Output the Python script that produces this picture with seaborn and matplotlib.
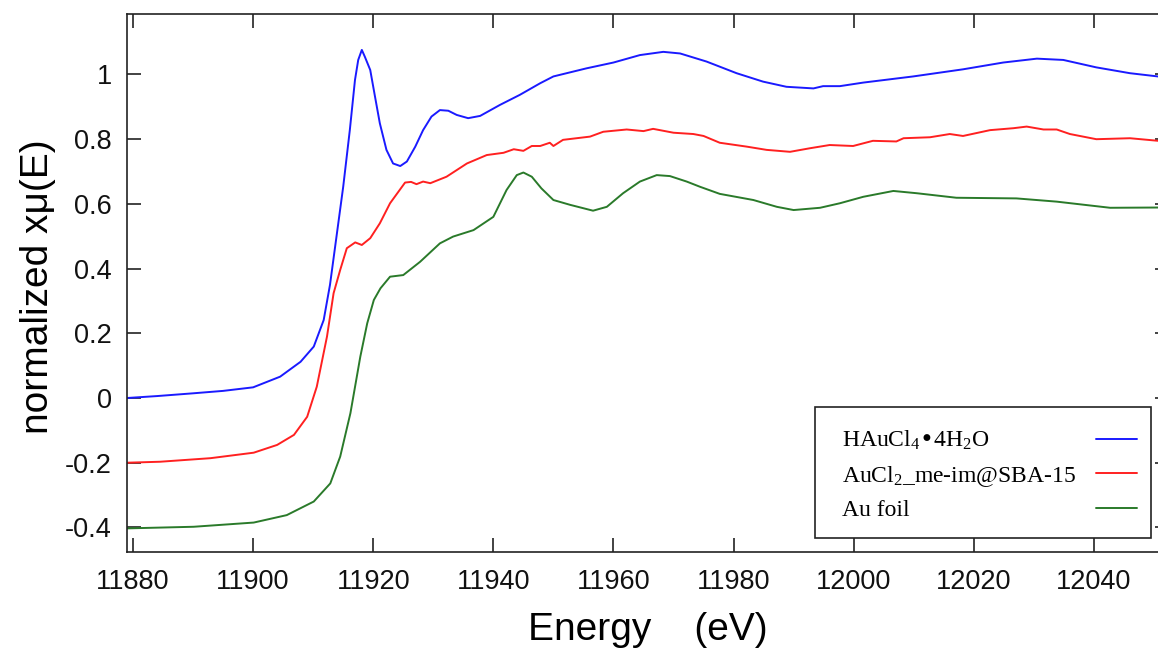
import matplotlib
matplotlib.use("Agg")
import matplotlib.pyplot as plt
from matplotlib.patches import Rectangle
import seaborn as sns
import pandas as pd

# ---------------- data ----------------
series_names = ["HAuCl$_\\mathregular{4}$\u20224H$_\\mathregular{2}$O",
                "AuCl$_\\mathregular{2}$_me-im@SBA-15",
                "Au foil"]

haucl4_E = [11879, 11884, 11890, 11895, 11900, 11904.5, 11907.9, 11910.1, 11911.75, 11912.8,
            11915.0, 11916.1, 11916.96, 11917.5, 11918.1, 11918.6, 11919.5, 11920.3, 11921.1,
            11922.2, 11923.3, 11924.5, 11925.6, 11927.0, 11928.3, 11929.7, 11931.1, 11932.5,
            11933.9, 11935.8, 11937.8, 11941.1, 11944.4,
            11947.8, 11950.0, 11955.5, 11960.0, 11964.4, 11968.3, 11971.1, 11975.5, 11980.5,
            11984.9, 11988.8, 11993.3, 11994.9, 11997.7, 12001.6, 12009.9, 12018.2, 12024.9,
            12030.5, 12034.9, 12040.4, 12046.0, 12052.5]
haucl4_mu = [0.0, 0.006, 0.0145, 0.022, 0.033, 0.066, 0.112, 0.159, 0.241, 0.35,
             0.653, 0.828, 0.983, 1.045, 1.076, 1.055, 1.014, 0.931, 0.849,
             0.767, 0.725, 0.717, 0.731, 0.777, 0.828, 0.87, 0.89, 0.888,
             0.875, 0.865, 0.872, 0.906, 0.937,
             0.973, 0.994, 1.019, 1.037, 1.06, 1.07, 1.065, 1.04, 1.004,
             0.978, 0.962, 0.957, 0.964, 0.964, 0.975, 0.994, 1.016, 1.037,
             1.049, 1.045, 1.022, 1.004, 0.99]

aucl2_E = [11879, 11884.5, 11892.9, 11900.1, 11904.0, 11906.8, 11909.0, 11910.6, 11912.3, 11913.4,
           11914.5, 11915.6, 11917.0, 11918.1, 11919.5, 11921.1, 11922.8, 11925.3, 11926.3,
           11927.2, 11928.3, 11929.5, 11932.2, 11935.6, 11938.9, 11941.7, 11943.4, 11945.0,
           11946.4, 11947.8, 11949.4, 11950.0, 11951.6, 11956.1, 11958.3, 11962.2, 11965.0,
           11966.6, 11970.0, 11973.3, 11975.0, 11977.7, 11982.2, 11985.5, 11989.4, 11992.7,
           11996.0, 11999.9, 12003.2, 12007.1, 12008.3, 12012.7, 12016.0, 12018.2, 12022.7,
           12026.6, 12028.8, 12031.6, 12033.8, 12036.0, 12040.4, 12046.0, 12052.5]
aucl2_mu = [-0.2, -0.197, -0.186, -0.169, -0.145, -0.114, -0.058, 0.035, 0.19, 0.324,
            0.396, 0.463, 0.481, 0.473, 0.494, 0.54, 0.602, 0.666, 0.668,
            0.661, 0.669, 0.664, 0.684, 0.725, 0.751, 0.758, 0.769, 0.764,
            0.779, 0.779, 0.789, 0.779, 0.798, 0.808, 0.823, 0.83, 0.825,
            0.832, 0.82, 0.816, 0.81, 0.789, 0.777, 0.767, 0.761, 0.772,
            0.782, 0.779, 0.795, 0.793, 0.803, 0.806, 0.816, 0.81, 0.828,
            0.834, 0.839, 0.83, 0.83, 0.816, 0.8, 0.803, 0.792]

aufoil_E = [11879, 11890.1, 11900.1, 11905.6, 11910.1, 11912.85, 11914.5, 11916.2, 11917.85, 11919.0,
            11920.1, 11921.2, 11922.8, 11925.0, 11927.8, 11931.1, 11933.3, 11936.7, 11940.0,
            11942.2, 11943.9, 11945.0, 11946.4, 11948.0, 11950.0, 11952.8, 11956.6, 11958.9,
            11961.6, 11964.4, 11967.2, 11969.4, 11972.2, 11974.4, 11977.7, 11983.3, 11987.2,
            11990.0, 11994.4, 11997.7, 12001.6, 12006.6, 12010.5, 12017.1, 12027.1, 12033.8,
            12042.7, 12052.5]
aufoil_mu = [-0.403, -0.398, -0.385, -0.362, -0.32, -0.264, -0.181, -0.047, 0.128, 0.231,
             0.303, 0.339, 0.375, 0.38, 0.421, 0.478, 0.499, 0.519, 0.56,
             0.643, 0.689, 0.697, 0.684, 0.648, 0.612, 0.597, 0.579, 0.591,
             0.633, 0.669, 0.689, 0.686, 0.669, 0.653, 0.631, 0.612, 0.591,
             0.581, 0.588, 0.602, 0.622, 0.64, 0.633, 0.619, 0.617, 0.607,
             0.588, 0.589]

x_ticks = [11880, 11900, 11920, 11940, 11960, 11980, 12000, 12020, 12040]
x_tick_labels = ["11880", "11900", "11920", "11940", "11960", "11980", "12000", "12020", "12040"]
y_ticks = [-0.4, -0.2, 0.0, 0.2, 0.4, 0.6, 0.8, 1.0]
y_tick_labels = ["-0.4", "-0.2", "0", "0.2", "0.4", "0.6", "0.8", "1"]

colors = ["#1a1aff", "#ff2020", "#2a7a2a"]

# ---------------- build long table ----------------
frames = []
for name, E, mu in zip(series_names,
                       [haucl4_E, aucl2_E, aufoil_E],
                       [haucl4_mu, aucl2_mu, aufoil_mu]):
    frames.append(pd.DataFrame({"Energy": E, "mu": mu, "sample": name}))
df = pd.concat(frames, ignore_index=True)

# ---------------- style ----------------
sns.set_theme(style="ticks")
plt.rcParams["font.family"] = ["Liberation Sans", "DejaVu Sans"]
plt.rcParams["axes.unicode_minus"] = False
plt.rcParams["mathtext.default"] = "regular"

fig = plt.figure(figsize=(11.58, 6.60), dpi=100)
ax = fig.add_axes([127 / 1158, 108 / 660, 1042 / 1158, 538 / 660])

sns.lineplot(data=df, x="Energy", y="mu", hue="sample", hue_order=series_names,
             palette=colors, estimator=None, sort=False, linewidth=1.4, ax=ax)

ax.set_xlim(11879.0, 12052.5)
ax.set_ylim(-0.476, 1.187)
ax.set_xticks(x_ticks)
ax.set_xticklabels(x_tick_labels)
ax.set_yticks(y_ticks)
ax.set_yticklabels(y_tick_labels)

for sp in ax.spines.values():
    sp.set_visible(True)
    sp.set_linewidth(1.2)
    sp.set_color("#222222")

ax.tick_params(axis="both", which="major", direction="in", length=10, width=1.2,
               color="#222222", labelsize=19.5, labelcolor="#111111",
               top=True, right=True)
ax.tick_params(axis="x", pad=12)
ax.tick_params(axis="y", pad=11)

ax.set_xlabel("Energy    (eV)", fontsize=28, color="black")
ax.set_ylabel("normalized x\u03bc(E)", fontsize=28, color="black")
ax.xaxis.set_label_coords(0.5, -0.112)
ax.yaxis.set_label_coords(-0.068, 0.4935)

# ---------------- legend: frame + handles (right) + left-aligned texts ----------------
handles, labels = ax.get_legend_handles_labels()
if ax.get_legend() is not None:
    ax.get_legend().remove()

frame = Rectangle((0.6603, 0.026), 0.3225, 0.2435, transform=ax.transAxes,
                  facecolor="white", edgecolor="#222222", linewidth=1.2, zorder=5)
ax.add_patch(frame)

leg_font = {"family": ["Liberation Serif", "DejaVu Serif"], "size": 17}
row_top = 0.2286

leg_handles = ax.legend(handles, labels, loc="upper right", bbox_to_anchor=(0.9693, row_top),
                        borderaxespad=0, borderpad=0, markerfirst=False, frameon=False,
                        handlelength=1.75, handletextpad=0.9, labelspacing=0.48,
                        prop=leg_font)
leg_handles.set_zorder(6)
for t in leg_handles.get_texts():
    t.set_alpha(0)
for line in leg_handles.get_lines():
    line.set_linewidth(1.4)
ax.add_artist(leg_handles)

leg_texts = ax.legend(handles, labels, loc="upper left", bbox_to_anchor=(0.6862, row_top),
                      borderaxespad=0, borderpad=0, markerfirst=True, frameon=False,
                      handlelength=0, handletextpad=0, labelspacing=0.48,
                      prop=leg_font)
leg_texts.set_zorder(7)
for line in leg_texts.get_lines():
    line.set_visible(False)
for t in leg_texts.get_texts():
    t.set_color("black")

fig.savefig("out.png", dpi=100)
